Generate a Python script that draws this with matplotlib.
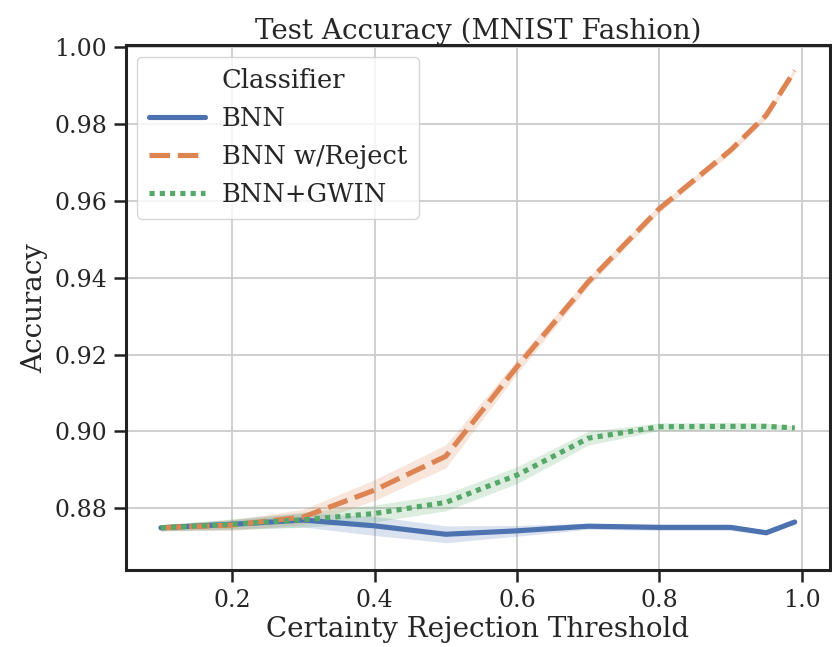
import numpy as np
import matplotlib
matplotlib.use('Agg')
import matplotlib.pyplot as plt
import seaborn as sns
from matplotlib.lines import Line2D

sns.set_theme(style='ticks')
plt.rcParams['font.family'] = ['DejaVu Serif']

# data
thresholds = [0.1, 0.2, 0.3, 0.4, 0.5, 0.6, 0.7, 0.8, 0.9, 0.95, 0.99]
bnn = [0.8749, 0.8758, 0.8769, 0.8754, 0.8732, 0.8741, 0.8753, 0.8750, 0.8750, 0.8736, 0.8764]
bnn_err = [0.0008, 0.0012, 0.0018, 0.0025, 0.0022, 0.0014, 0.0008, 0.0008, 0.0008, 0.0006, 0.0004]
reject = [0.8749, 0.8756, 0.8777, 0.8847, 0.8935, 0.9168, 0.9389, 0.9580, 0.9732, 0.9823, 0.9939]
reject_err = [0.0008, 0.0014, 0.0020, 0.0027, 0.0030, 0.0018, 0.0012, 0.0010, 0.0009, 0.0009, 0.0007]
gwin = [0.8749, 0.8758, 0.8770, 0.8786, 0.8815, 0.8886, 0.8982, 0.9012, 0.9013, 0.9013, 0.9009]
gwin_err = [0.0008, 0.0014, 0.0020, 0.0022, 0.0022, 0.0022, 0.0018, 0.0010, 0.0010, 0.0008, 0.0005]

labels = ['BNN', 'BNN w/Reject', 'BNN+GWIN']
colors = ['#4C72B0', '#DD8452', '#55A868']
styles = ['-', (0, (4, 1.5)), (0, (1, 1))]
series = [(bnn, bnn_err), (reject, reject_err), (gwin, gwin_err)]

fig = plt.figure(figsize=(8.32, 6.47), dpi=100)
ax = fig.add_axes([0.151, 0.119, 0.847, 0.811])

x = np.array(thresholds)
handles = [Line2D([], [], color='none')]
for (vals, err), lab, c, ls in zip(series, labels, colors, styles):
    v = np.array(vals)
    e = np.array(err)
    ax.fill_between(x, v - e, v + e, color=c, alpha=0.2, linewidth=0)
    line, = ax.plot(x, v, color=c, linestyle=ls, linewidth=3.7, label=lab)
    handles.append(line)

ax.set_xlim(0.0505, 1.04)
ax.set_ylim(0.8639, 1.0005)
ax.set_xticks([0.2, 0.4, 0.6, 0.8, 1.0])
ax.set_yticks([0.88, 0.90, 0.92, 0.94, 0.96, 0.98, 1.00])
ax.set_yticklabels(['0.88', '0.90', '0.92', '0.94', '0.96', '0.98', '1.00'])
ax.grid(True, color='#cccccc', linewidth=1.3)
ax.tick_params(labelsize=17, width=1.8, length=8.5, pad=5, color='#222222')
for s in ax.spines.values():
    s.set_linewidth(2.2)
    s.set_color('#222222')

ax.set_title('Test Accuracy (MNIST Fashion)', fontsize=20, pad=3)
ax.set_xlabel('Certainty Rejection Threshold', fontsize=20, labelpad=3)
ax.set_ylabel('Accuracy', fontsize=20, labelpad=4)

ax.legend(handles, ['Classifier'] + labels, loc='upper left', fontsize=18.5,
          handlelength=2.2, handletextpad=0.65, borderpad=0.45,
          labelspacing=0.5, borderaxespad=0.45, framealpha=0.8)

fig.savefig('out.png', dpi=100)
